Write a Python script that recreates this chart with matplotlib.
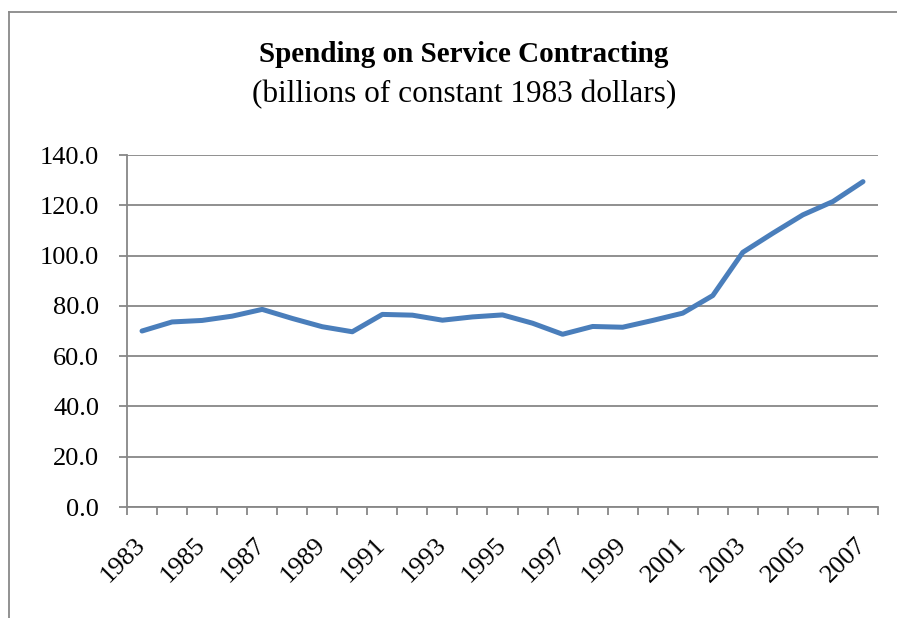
import matplotlib.pyplot as plt
from matplotlib.lines import Line2D

years = list(range(1983, 2008))
spending = [70.0, 73.6, 74.2, 75.9, 78.6, 75.0, 71.7, 69.7, 76.6, 76.3,
            74.3, 75.6, 76.4, 73.1, 68.7, 71.8, 71.5, 74.2, 77.1, 84.1,
            101.3, 108.9, 116.2, 121.5, 129.4]
y_ticks = [0, 20, 40, 60, 80, 100, 120, 140]

W, H = 897, 618
fig = plt.figure(figsize=(W / 100, H / 100), dpi=100)
plt.rcParams['font.family'] = ['Liberation Serif', 'DejaVu Serif']

ax = fig.add_axes([127 / W, (H - 507) / H, (878 - 127) / W, (507 - 155) / H])

x = list(range(len(years)))
ax.plot(x, spending, color='#4a7ebb', linewidth=3.6, solid_capstyle='round',
        solid_joinstyle='round', zorder=3)

grid_col = '#878787'
ax.set_ylim(0, 140)
ax.set_yticks(y_ticks)
ax.set_yticklabels([f'{v:.1f}' for v in y_ticks])
ax.yaxis.grid(True, color=grid_col, linewidth=1.3)
ax.set_axisbelow(True)

# category axis: tick marks sit between the years, labels on every other year
ax.set_xlim(-0.5, len(years) - 0.5)
ax.set_xticks([i - 0.5 for i in range(len(years) + 1)])
ax.set_xticklabels([])
ax.set_xticks(x[::2], minor=True)
ax.set_xticklabels([str(y) for y in years[::2]], minor=True,
                   rotation=45, ha='right', va='center', rotation_mode='anchor')

ax.tick_params(axis='x', which='major', length=6, width=1.3, color=grid_col, direction='out')
ax.tick_params(axis='x', which='minor', length=0, pad=25, labelsize=19)
ax.tick_params(axis='y', length=6, width=1.3, color=grid_col, pad=14, labelsize=19)

for side in ['top', 'right']:
    ax.spines[side].set_visible(False)
for side in ['left', 'bottom']:
    ax.spines[side].set_color(grid_col)
    ax.spines[side].set_linewidth(1.3)

fig.text(464 / W, 1 - 54 / H, 'Spending on Service Contracting', ha='center', va='center',
         fontsize=21, fontweight='bold')
fig.text(464 / W, 1 - 95 / H, '(billions of constant 1983 dollars)', ha='center', va='center',
         fontsize=22.5)

# outer chart frame (left and top edges)
fig.add_artist(Line2D([8.5 / W, 8.5 / W], [0, 1 - 11.5 / H], color='#898989', linewidth=1.3))
fig.add_artist(Line2D([8.5 / W, 1], [1 - 11.5 / H, 1 - 11.5 / H], color='#898989', linewidth=1.3))

fig.savefig('out.png', dpi=100)
